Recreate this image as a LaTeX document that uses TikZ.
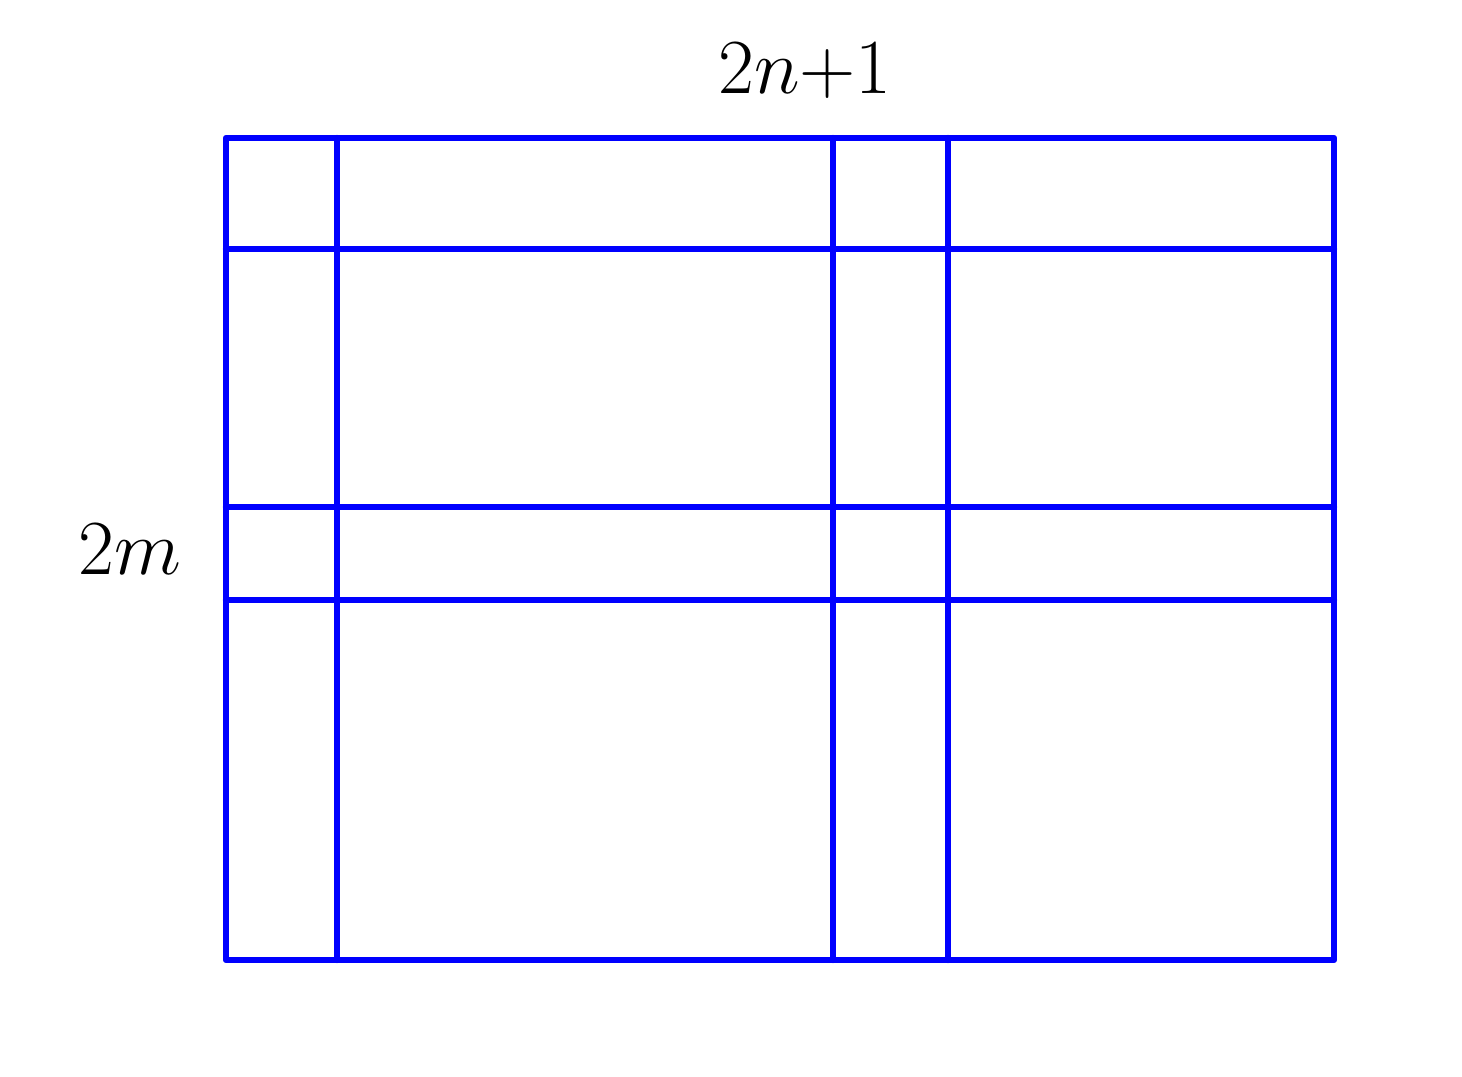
\documentclass[tikz,border=0pt]{standalone}
\usepackage{amsmath, amssymb}
\usepackage{xcolor}
\usepackage{tikz}

\begin{document}
\begin{tikzpicture}[gridline/.style={draw=blue, line width=1.8pt, line cap=round, line join=round}, every node/.style={font=\huge, scale=1.07, transform shape}]
        \useasboundingbox (0,0) rectangle (14.62,10.76);

        % Labels
        \node (width) at (8.05,10.05) {$2n{+}1$};
        \node (height) at (1.30,5.27) {$2m$};

        % Grid
        \draw[gridline] (2.26,1.16) rectangle (13.34,9.38);
        \foreach \x in {3.37, 8.33, 9.48}
            \draw[gridline] (\x,1.16) -- (\x,9.38);
        \foreach \y in {8.27, 5.69, 4.76}
            \draw[gridline] (2.26,\y) -- (13.34,\y);
    \end{tikzpicture}
\end{document}
